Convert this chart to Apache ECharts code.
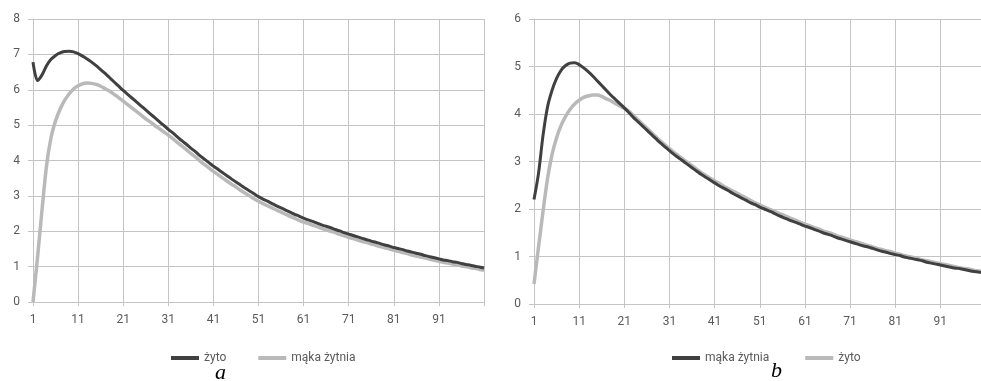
<!DOCTYPE html>
<html>
<head>
<meta charset="utf-8">
<script src="https://cdn.jsdelivr.net/npm/echarts@6/dist/echarts.min.js"></script>
<style>
html,body{margin:0;padding:0;background:#fff;}
#a{position:absolute;left:0;top:0;width:490px;height:381px;}
#b{position:absolute;left:490px;top:0;width:491px;height:381px;}
</style>
</head>
<body>
<div id="a"></div>
<div id="b"></div>
<script>
// ---- Chart a ----
const categoriesA = Array.from({length: 101}, (_, i) => String(i + 1));
const zytoA = [
  6.78, 6.26, 6.42, 6.68, 6.86, 6.97, 7.04, 7.08, 7.09, 7.07,
  7.02, 6.95, 6.87, 6.78, 6.68, 6.57, 6.46, 6.34, 6.22, 6.10,
  5.98, 5.87, 5.76, 5.65, 5.54, 5.43, 5.32, 5.21, 5.10, 4.99,
  4.88, 4.78, 4.67, 4.56, 4.46, 4.35, 4.25, 4.14, 4.04, 3.94,
  3.84, 3.75, 3.66, 3.57, 3.48, 3.39, 3.31, 3.22, 3.14, 3.06,
  2.98, 2.91, 2.85, 2.78, 2.72, 2.66, 2.60, 2.54, 2.48, 2.43,
  2.37, 2.32, 2.28, 2.23, 2.18, 2.14, 2.10, 2.05, 2.01, 1.96,
  1.92, 1.88, 1.84, 1.80, 1.76, 1.72, 1.69, 1.65, 1.61, 1.58,
  1.54, 1.51, 1.48, 1.44, 1.41, 1.38, 1.35, 1.31, 1.28, 1.25,
  1.22, 1.19, 1.17, 1.14, 1.12, 1.09, 1.06, 1.04, 1.01, 0.99,
  0.96
];
const makaA = [
  0.00, 1.25, 2.60, 3.85, 4.65, 5.12, 5.45, 5.70, 5.88, 6.02,
  6.11, 6.17, 6.19, 6.18, 6.15, 6.10, 6.03, 5.96, 5.87, 5.78,
  5.68, 5.58, 5.48, 5.38, 5.28, 5.18, 5.09, 4.99, 4.90, 4.81,
  4.72, 4.62, 4.51, 4.41, 4.31, 4.20, 4.10, 3.99, 3.89, 3.79,
  3.69, 3.60, 3.51, 3.42, 3.33, 3.25, 3.16, 3.08, 3.00, 2.92,
  2.85, 2.78, 2.72, 2.66, 2.60, 2.54, 2.48, 2.42, 2.37, 2.31,
  2.26, 2.22, 2.17, 2.13, 2.08, 2.04, 2.00, 1.96, 1.91, 1.87,
  1.83, 1.79, 1.75, 1.71, 1.68, 1.64, 1.60, 1.57, 1.53, 1.50,
  1.46, 1.43, 1.40, 1.37, 1.33, 1.30, 1.27, 1.24, 1.21, 1.18,
  1.15, 1.12, 1.10, 1.07, 1.05, 1.02, 1.00, 0.97, 0.95, 0.92,
  0.90
];
const yTicksA = {min: 0, max: 8, interval: 1};

// ---- Chart b ----
const categoriesB = Array.from({length: 100}, (_, i) => String(i + 1));
const makaB = [
  2.20, 2.75, 3.55, 4.15, 4.50, 4.75, 4.92, 5.02, 5.07, 5.08,
  5.04, 4.97, 4.89, 4.80, 4.70, 4.60, 4.50, 4.40, 4.31, 4.22,
  4.13, 4.03, 3.93, 3.84, 3.75, 3.66, 3.57, 3.48, 3.39, 3.31,
  3.23, 3.15, 3.08, 3.01, 2.94, 2.87, 2.80, 2.73, 2.67, 2.61,
  2.55, 2.49, 2.44, 2.39, 2.33, 2.28, 2.23, 2.18, 2.13, 2.09,
  2.04, 2.00, 1.96, 1.92, 1.87, 1.83, 1.79, 1.75, 1.72, 1.68,
  1.64, 1.61, 1.57, 1.54, 1.50, 1.47, 1.44, 1.40, 1.37, 1.34,
  1.31, 1.28, 1.25, 1.22, 1.20, 1.17, 1.14, 1.11, 1.09, 1.06,
  1.04, 1.02, 0.99, 0.97, 0.95, 0.93, 0.91, 0.88, 0.86, 0.84,
  0.82, 0.80, 0.78, 0.76, 0.75, 0.73, 0.71, 0.69, 0.68, 0.66
];
const zytoB = [
  0.42, 1.20, 1.95, 2.64, 3.15, 3.50, 3.76, 3.95, 4.10, 4.21,
  4.29, 4.35, 4.38, 4.40, 4.40, 4.37, 4.32, 4.28, 4.22, 4.17,
  4.12, 4.06, 3.97, 3.88, 3.79, 3.70, 3.61, 3.52, 3.43, 3.35,
  3.27, 3.19, 3.12, 3.05, 2.98, 2.91, 2.84, 2.77, 2.71, 2.65,
  2.59, 2.54, 2.48, 2.43, 2.38, 2.33, 2.28, 2.23, 2.18, 2.13,
  2.09, 2.04, 2.00, 1.96, 1.92, 1.88, 1.84, 1.80, 1.76, 1.72,
  1.68, 1.65, 1.61, 1.58, 1.54, 1.51, 1.48, 1.44, 1.41, 1.38,
  1.35, 1.32, 1.29, 1.26, 1.23, 1.20, 1.17, 1.15, 1.12, 1.10,
  1.07, 1.05, 1.02, 1.00, 0.98, 0.96, 0.93, 0.91, 0.89, 0.87,
  0.85, 0.83, 0.81, 0.79, 0.77, 0.75, 0.74, 0.72, 0.70, 0.69
];
const yTicksB = {min: 0, max: 6, interval: 1};

const DARK = '#404040';
const LIGHT = '#b9b9b9';
const GRID = '#c4c4c4';
const LABEL = '#5a5a5a';
const FONT = 'Roboto, "Open Sans", sans-serif';

function xAxisCfg(cats, lastIdx) {
  return {
    type: 'category', data: cats, boundaryGap: false,
    axisLine: {show: true, lineStyle: {color: GRID, width: 1}},
    axisTick: {show: true, length: 4, lineStyle: {color: GRID}, interval: (i) => i % 10 === 0},
    axisLabel: {color: LABEL, fontFamily: FONT, fontSize: 12, margin: 12,
      interval: (i) => i % 10 === 0 && i < lastIdx},
    splitLine: {show: true, lineStyle: {color: GRID, width: 1}, interval: (i) => i % 10 === 0}
  };
}
function yAxisCfg(t) {
  return {
    type: 'value', min: t.min, max: t.max, interval: t.interval,
    axisLine: {show: true, lineStyle: {color: GRID, width: 1}},
    axisTick: {show: true, length: 5, lineStyle: {color: GRID}},
    axisLabel: {color: LABEL, fontFamily: FONT, fontSize: 12, margin: 13},
    splitLine: {show: true, lineStyle: {color: GRID, width: 1}}
  };
}
function lineSeries(name, data, color, width, z) {
  return {
    name, type: 'line', data, showSymbol: false, symbol: 'none', smooth: 0.3,
    lineStyle: {color, width}, itemStyle: {color}, z, animation: false
  };
}

const chartA = echarts.init(document.getElementById('a'));
chartA.setOption({
  animation: false,
  grid: {left: 33, right: 6, top: 19, bottom: 79},
  title: {text: 'a', left: 210, top: 357,
    textStyle: {fontFamily: '"Liberation Serif", serif', fontStyle: 'italic', fontWeight: 'normal', fontSize: 22, color: '#000'}},
  legend: {
    data: ['żyto', 'mąka żytnia'], left: 166, top: 347, icon: 'rect',
    itemWidth: 28, itemHeight: 4, itemGap: 32,
    textStyle: {color: LABEL, fontFamily: FONT, fontSize: 12}
  },
  xAxis: xAxisCfg(categoriesA, 100),
  yAxis: yAxisCfg(yTicksA),
  series: [
    lineSeries('żyto', zytoA, DARK, 3, 3),
    lineSeries('mąka żytnia', makaA, LIGHT, 3.5, 2)
  ]
});

const chartB = echarts.init(document.getElementById('b'));
chartB.setOption({
  animation: false,
  grid: {left: 44, right: 0, top: 19, bottom: 77},
  title: {text: 'b', left: 276, top: 355,
    textStyle: {fontFamily: '"Liberation Serif", serif', fontStyle: 'italic', fontWeight: 'normal', fontSize: 22, color: '#000'}},
  legend: {
    data: ['mąka żytnia', 'żyto'], left: 177, top: 347, icon: 'rect',
    itemWidth: 28, itemHeight: 4, itemGap: 36,
    textStyle: {color: LABEL, fontFamily: FONT, fontSize: 12}
  },
  xAxis: xAxisCfg(categoriesB, 99),
  yAxis: yAxisCfg(yTicksB),
  series: [
    lineSeries('mąka żytnia', makaB, DARK, 3, 3),
    lineSeries('żyto', zytoB, LIGHT, 3.5, 2)
  ]
});
</script>
</body>
</html>
